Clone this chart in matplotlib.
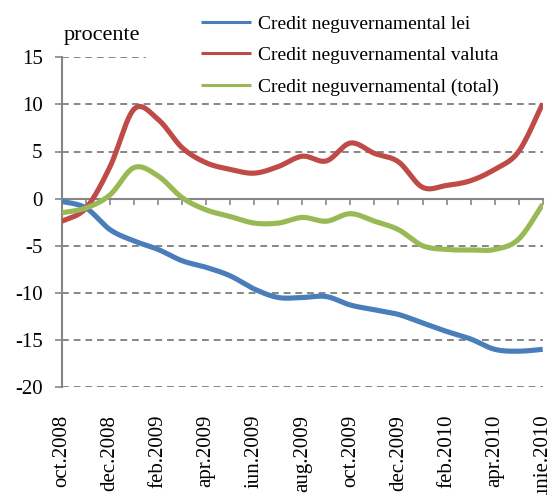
import numpy as np
import matplotlib
matplotlib.use("Agg")
import matplotlib.pyplot as plt

plt.rcParams['font.family'] = ['Liberation Serif', 'DejaVu Serif']
plt.rcParams['axes.unicode_minus'] = False

# Data (percent, monthly oct.2008 - iunie.2010)
months = ['oct.2008', 'nov.2008', 'dec.2008', 'ian.2009', 'feb.2009', 'mar.2009',
          'apr.2009', 'mai.2009', 'iun.2009', 'iul.2009', 'aug.2009', 'sep.2009',
          'oct.2009', 'nov.2009', 'dec.2009', 'ian.2010', 'feb.2010', 'mar.2010',
          'apr.2010', 'mai.2010', 'iunie.2010']
credit_lei = [-0.3, -1.0, -3.3, -4.5, -5.4, -6.6, -7.3, -8.2, -9.6, -10.5, -10.5,
              -10.4, -11.3, -11.8, -12.3, -13.2, -14.1, -14.9, -16.0, -16.2, -16.0]
credit_valuta = [-2.4, -1.0, 3.4, 9.5, 8.4, 5.4, 3.8, 3.1, 2.7, 3.4, 4.5,
                 4.0, 5.9, 4.8, 3.9, 1.2, 1.4, 1.9, 3.1, 5.0, 10.1]
credit_total = [-1.5, -1.0, 0.4, 3.3, 2.4, 0.1, -1.2, -1.9, -2.6, -2.6, -2.0,
                -2.4, -1.6, -2.4, -3.3, -5.0, -5.4, -5.45, -5.4, -4.3, -0.6]
labels = ['Credit neguvernamental lei', 'Credit neguvernamental valuta',
          'Credit neguvernamental (total)']
colors = ['#4A7EBB', '#BE4B48', '#98B954']


def smooth(x, y, n=24):
    # Catmull-Rom curve through the points (like Excel "smoothed line")
    pts = np.column_stack([x, y]).astype(float)
    P = np.vstack([pts[0], pts, pts[-1]])
    t = np.linspace(0, 1, n, endpoint=False)[:, None]
    out = []
    for i in range(1, len(P) - 2):
        p0, p1, p2, p3 = P[i - 1], P[i], P[i + 1], P[i + 2]
        seg = 0.5 * (2 * p1 + (-p0 + p2) * t + (2 * p0 - 5 * p1 + 4 * p2 - p3) * t ** 2
                     + (-p0 + 3 * p1 - 3 * p2 + p3) * t ** 3)
        out.append(seg)
    out.append(pts[-1:])
    s = np.vstack(out)
    return s[:, 0], s[:, 1]


gray = '#868686'
fig = plt.figure(figsize=(5.54, 4.95), dpi=100)
ax = fig.add_axes([62 / 554, 1 - 387 / 495, 480.7 / 554, 329.7 / 495])

x = np.arange(len(months))
for series, lab, col in zip([credit_lei, credit_valuta, credit_total], labels, colors):
    sx, sy = smooth(x, series)
    ax.plot(sx, sy, color=col, lw=3.7, label=lab, solid_capstyle='butt', zorder=3)

ax.set_xlim(0, len(months) - 1)
ax.set_ylim(-20, 15)
ax.set_yticks(range(-20, 16, 5))
ax.yaxis.grid(True, color=gray, lw=1.4, ls=(0, (3.5, 2.5)))
ax.set_axisbelow(True)

for s in ['top', 'right']:
    ax.spines[s].set_visible(False)
ax.spines['left'].set_color(gray)
ax.spines['left'].set_linewidth(1.5)
ax.spines['bottom'].set_position(('data', 0))
ax.spines['bottom'].set_color(gray)
ax.spines['bottom'].set_linewidth(1.5)
ax.spines['bottom'].set_zorder(2)

ax.set_xticks(x)
ax.set_xticklabels([])
ax.tick_params(axis='x', direction='out', length=4, width=1.2, color=gray)
ax.tick_params(axis='y', direction='out', length=5, width=1.2, color=gray,
               labelsize=15, pad=9)

sec = ax.secondary_xaxis('bottom')
sec.set_xticks(x[::2], [months[i] for i in x[::2]], rotation=90, fontsize=15)
sec.spines['bottom'].set_visible(False)
sec.tick_params(length=0, pad=20)

fig.text(64 / 554, 1 - 40 / 495, 'procente', fontsize=16, va='baseline', ha='left')

# white area behind the legend (hides the top gridline)
fig.patches.append(plt.Rectangle((146 / 554, 1 - 98 / 495), 1, 1, transform=fig.transFigure,
                                 facecolor='white', edgecolor='none', zorder=1))
handles, labs = ax.get_legend_handles_labels()
leg = fig.legend(handles, labs, loc='upper left', bbox_to_anchor=(183 / 554, 1.005),
                 frameon=False, fontsize=14, handlelength=2.6, handletextpad=0.35,
                 labelspacing=0.72, borderpad=0.4)
leg.set_zorder(2)
for h in leg.get_lines():
    h.set_linewidth(2.2)

fig.savefig('out.png', dpi=100)
